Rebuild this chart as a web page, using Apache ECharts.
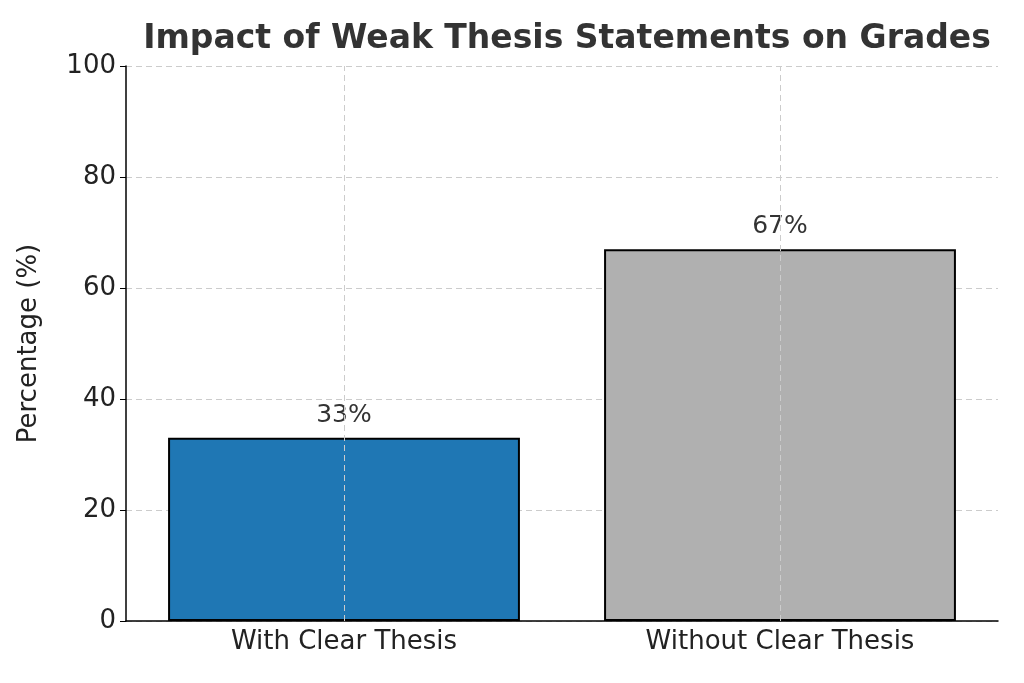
<!DOCTYPE html>
<html><head><meta charset="utf-8">
<script src="https://cdn.jsdelivr.net/npm/echarts@6/dist/echarts.min.js"></script>
<style>html,body{margin:0;background:#fff}#c{width:1024px;height:683px}</style>
</head><body><div id="c"></div>
<script>
var categories = ['With Clear Thesis', 'Without Clear Thesis'];
var values = [33, 67];
var colors = ['#1f77b4', '#b0b0b0'];
var font = 'DejaVu Sans';
var grid = {type: [6, 4], color: '#cccccc', width: 1};

var chart = echarts.init(document.getElementById('c'));
chart.setOption({
  animation: false,
  textStyle: {fontFamily: font},
  title: {text: 'Impact of Weak Thesis Statements on Grades', left: 562, top: 18, textAlign: 'center',
    textStyle: {fontFamily: font, fontSize: 33, fontWeight: 'bold', color: '#333'}},
  grid: {left: 126, right: 26, top: 66, bottom: 62},
  xAxis: {type: 'category', data: categories,
    axisLine: {lineStyle: {color: '#000', width: 1.5}},
    axisTick: {alignWithLabel: true, length: 6, lineStyle: {color: '#000'}},
    axisLabel: {fontSize: 26, color: '#222', margin: 8}},
  yAxis: {type: 'value', min: 0, max: 100, interval: 20,
    name: 'Percentage (%)', nameLocation: 'middle', nameGap: 84,
    nameTextStyle: {fontSize: 26, color: '#222'},
    axisLine: {show: true, lineStyle: {color: '#000', width: 1.5}},
    axisTick: {show: true, length: 6, lineStyle: {color: '#000'}},
    axisLabel: {fontSize: 26, color: '#222', margin: 10},
    splitLine: {lineStyle: grid}},
  series: [{type: 'bar', barWidth: '80.7%',
    data: values.map(function (v, i) { return {value: v, itemStyle: {color: colors[i]}}; }),
    itemStyle: {borderColor: '#000', borderWidth: 2},
    label: {show: true, position: 'top', distance: 10, formatter: '{c}%', fontSize: 25, color: '#333'},
    markLine: {silent: true, symbol: 'none', label: {show: false}, lineStyle: grid,
      data: categories.map(function (c) { return {xAxis: c}; })}
  }]
});
</script></body></html>
